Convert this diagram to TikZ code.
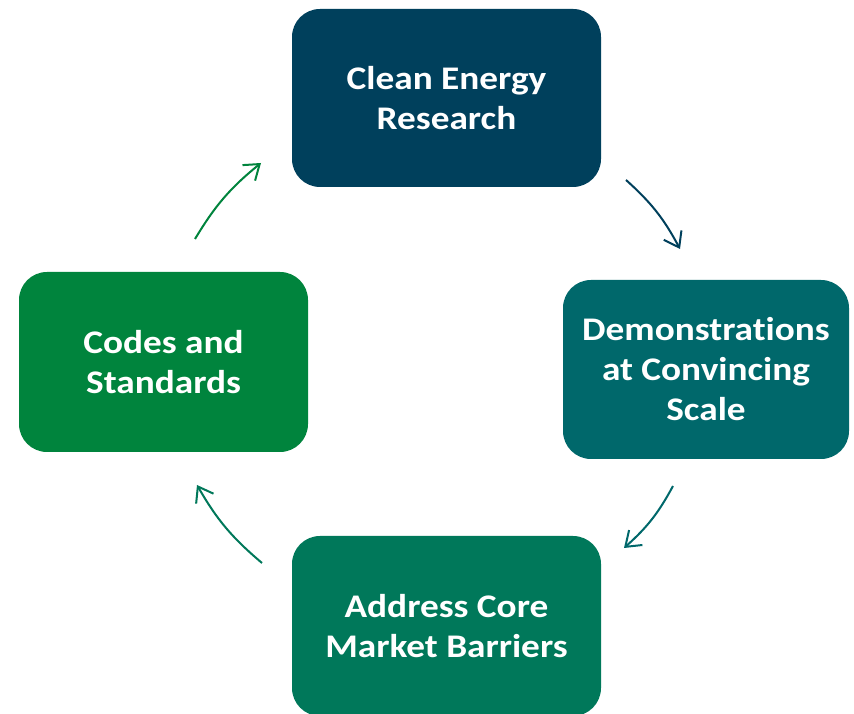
\documentclass[tikz,border=0pt]{standalone}
\usepackage{fontspec}
\setmainfont{Carlito}[FakeStretch=1.13, Ligatures=NoCommon]
\usetikzlibrary{arrows.meta}
\definecolor{navy}{HTML}{00405C}
\definecolor{tealbox}{HTML}{00686B}
\definecolor{greenmid}{HTML}{00785A}
\definecolor{greenleaf}{HTML}{00843D}
\tikzset{
  stagebox/.style={rectangle, rounded corners=28pt, inner sep=0pt,
    text=white, align=center,
    font=\fontsize{33pt}{40pt}\selectfont\bfseries},
  cyclearrow/.style={line width=2pt, bend left=10,
    -{Straight Barb[length=14pt,width=20pt]}}
}
\begin{document}
\begin{tikzpicture}[x=1pt,y=1pt]
\useasboundingbox (0,0) rectangle (854,714);
\clip (0,0) rectangle (854,714);
\fill[white] (0,0) rectangle (854,714);

% the four stages of the cycle
\node[stagebox, fill=navy, minimum width=309pt, minimum height=178pt]
  (research) at (446.5,616) {Clean Energy\\Research};
\node[stagebox, fill=tealbox, minimum width=286pt, minimum height=179pt]
  (demo) at (706,344.5) {Demonstrations\\at Convincing\\Scale};
\node[stagebox, fill=greenmid, minimum width=309pt, minimum height=180pt]
  (market) at (446.5,88) {Address Core\\Market Barriers};
\node[stagebox, fill=greenleaf, minimum width=289pt, minimum height=180pt]
  (codes) at (163.5,352) {Codes and\\Standards};

% arrow end points on the ring between the stages
\coordinate (a1s) at (626,534);
\coordinate (a1e) at (680,465);
\coordinate (a2s) at (673,228);
\coordinate (a2e) at (624,166);
\coordinate (a3s) at (262,151);
\coordinate (a3e) at (197,229);
\coordinate (a4s) at (195,475);
\coordinate (a4e) at (261,551);

\draw[cyclearrow, navy] (a1s) to (a1e);
\draw[cyclearrow, tealbox] (a2s) to (a2e);
\draw[cyclearrow, greenmid] (a3s) to (a3e);
\draw[cyclearrow, greenleaf] (a4s) to (a4e);
\end{tikzpicture}
\end{document}
